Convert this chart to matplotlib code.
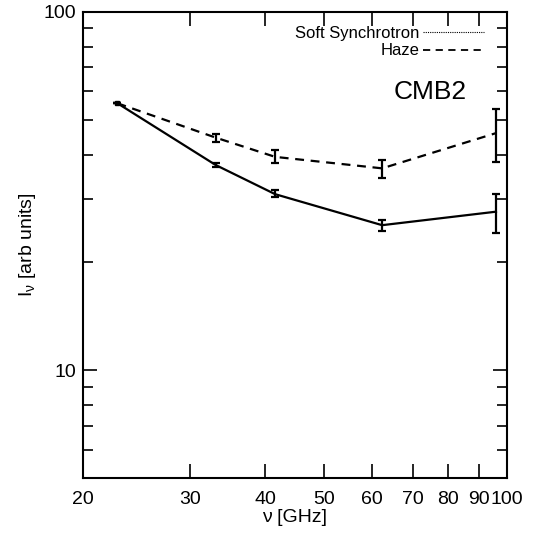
#!/usr/bin/env python
# -*- coding: utf-8 -*-

"""
Spectrum of the soft synchrotron and haze components, CMB2 template.
"""

# Third party modules.
import matplotlib
matplotlib.use("Agg")
import matplotlib.pyplot as plt
from matplotlib.lines import Line2D
from matplotlib.ticker import FixedLocator, NullFormatter, NullLocator

# Globals and constants variables.
freq_ghz = [22.8, 33.1, 41.5, 62.3, 96.0]

soft_synch = [55.6, 37.4, 31.0, 25.4, 27.7]
soft_synch_lo = [55.6, 37.0, 30.4, 24.5, 24.2]
soft_synch_hi = [55.6, 37.8, 31.8, 26.2, 31.0]

haze = [55.6, 44.6, 39.4, 36.6, 45.9]
haze_lo = [55.6, 43.4, 38.0, 34.3, 38.2]
haze_hi = [55.6, 45.7, 41.2, 38.6, 53.6]

x_ticks = [20, 30, 40, 50, 60, 70, 80, 90, 100]
y_major = [10, 100]
y_minor = [6, 7, 8, 9, 20, 30, 40, 50, 60, 70, 80, 90]

plt.rcParams['font.family'] = ['Liberation Sans', 'DejaVu Sans']
plt.rcParams['mathtext.fontset'] = 'custom'
plt.rcParams['mathtext.rm'] = 'Liberation Sans'
plt.rcParams['mathtext.it'] = 'Liberation Sans'


def errs(values, lo, hi):
    return [[v - l for v, l in zip(values, lo)], [h - v for v, h in zip(values, hi)]]


def run():
    fig = plt.figure(figsize=(5.33, 5.35), dpi=100)
    ax = fig.add_axes([0.1557, 0.1065, 0.795, 0.8711])

    ax.errorbar(freq_ghz, soft_synch, yerr=errs(soft_synch, soft_synch_lo, soft_synch_hi),
                color="black", lw=1.6, ls="-", capsize=3, elinewidth=1.6, capthick=1.6)
    ax.errorbar(freq_ghz, haze, yerr=errs(haze, haze_lo, haze_hi),
                color="black", lw=1.6, ls=(0, (4, 3)), capsize=3, elinewidth=1.6,
                capthick=1.6)
    ax.plot(freq_ghz[:1], haze[:1], "s", color="black", ms=3)

    ax.set_xscale("log")
    ax.set_yscale("log")
    ax.set_xlim(20, 100)
    ax.set_ylim(5, 100)

    ax.xaxis.set_major_locator(FixedLocator(x_ticks))
    ax.xaxis.set_minor_locator(NullLocator())
    ax.set_xticklabels([str(t) for t in x_ticks])
    ax.xaxis.set_minor_formatter(NullFormatter())
    ax.yaxis.set_major_locator(FixedLocator(y_major))
    ax.yaxis.set_minor_locator(FixedLocator(y_minor))
    ax.set_yticklabels([str(t) for t in y_major])
    ax.yaxis.set_minor_formatter(NullFormatter())

    ax.tick_params(which="both", direction="in", top=True, right=True, width=1.2,
                   labelsize=14)
    ax.tick_params(axis="x", which="major", length=10, pad=9)
    ax.tick_params(axis="y", which="major", length=10, pad=5)
    ax.tick_params(axis="y", which="minor", length=7)
    for spine in ax.spines.values():
        spine.set_linewidth(1.5)

    ax.set_xlabel("ν [GHz]", fontsize=14, labelpad=1)
    ax.set_ylabel("I$_{ν}$ [arb units]", fontsize=14, labelpad=4)

    handles = [Line2D([], [], color="black", lw=0.8, ls=(0, (1, 1))),
               Line2D([], [], color="black", lw=1.3, ls=(0, (4, 3)))]
    ax.legend(handles, ["Soft Synchrotron", "Haze"], loc="upper right",
              bbox_to_anchor=(0.975, 0.995), frameon=False, markerfirst=False,
              fontsize=12, handlelength=3.7, handletextpad=0.2, labelspacing=0.15,
              borderpad=0.2)

    ax.text(0.905, 0.828, "CMB2", transform=ax.transAxes, ha="right", va="center",
            fontsize=19)

    fig.savefig("out.png", dpi=100)


def main():
    run()


if __name__ == '__main__':
    main()
